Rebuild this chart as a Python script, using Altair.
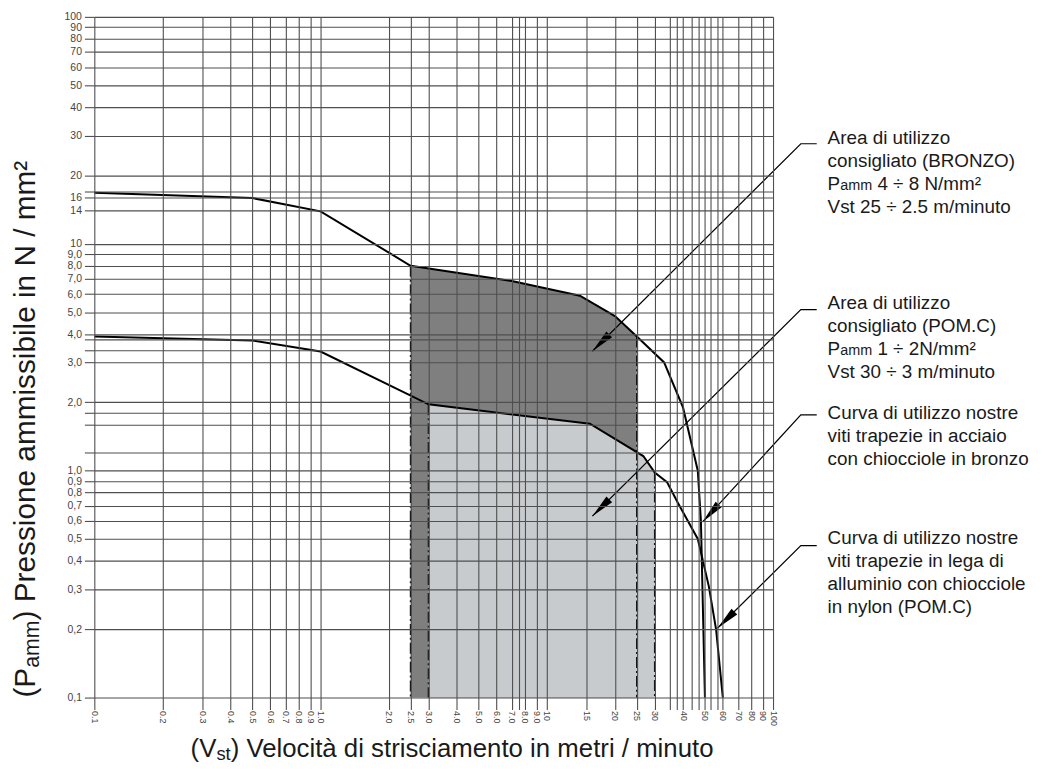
import json
import math
import altair as alt
import pandas as pd

FONT = "Liberation Sans"
TXT = "#1a1a1a"
GRID = "#4f4f4f"

# ---------------- data ----------------
# bronze-nut curve (steel screws + bronze nuts): velocity m/min, pressure N/mm2
bronze_v = [0.1, 0.5, 1.0, 2.5, 7.0, 14.0, 20.0, 25.0, 33.0, 40.0, 46.5, 48.0, 50.0]
bronze_p = [16.8, 15.9, 13.9, 8.0, 6.85, 5.9, 4.8, 3.9, 3.0, 1.9, 1.0, 0.6, 0.1]
# POM.C-nut curve (aluminium screws + nylon nuts)
pom_v = [0.1, 0.5, 1.0, 3.0, 15.5, 26.7, 30.0, 34.0, 38.0, 46.5, 52.0, 56.0, 60.0]
pom_p = [3.9, 3.75, 3.35, 1.96, 1.61, 1.16, 0.98, 0.89, 0.72, 0.5, 0.31, 0.2, 0.1]

bronze_range = [2.5, 25.0]
pom_range = [3.0, 30.0]
p_floor = 0.1

# grid lines and tick labels
x_grid = [0.1, 0.2, 0.3, 0.4, 0.5, 0.6, 0.7, 0.8, 0.9, 1.0, 2.0, 2.5, 3.0, 4.0, 5.0,
          6.0, 7.0, 7.5, 8.0, 9.0, 10, 15, 20, 25, 30, 35, 37.5, 40, 43.5, 47, 50,
          53, 57, 60, 70, 80, 90, 100]
x_labeled = [0.1, 0.2, 0.3, 0.4, 0.5, 0.6, 0.7, 0.8, 0.9, 1.0, 2.0, 2.5, 3.0, 4.0,
             5.0, 6.0, 7.0, 8.0, 9.0, 10, 15, 20, 25, 30, 40, 50, 60, 70, 80, 90, 100]
y_grid = [0.1, 0.2, 0.3, 0.4, 0.5, 0.6, 0.7, 0.8, 0.9, 1.0, 1.2, 1.6, 1.8, 2.0, 3.0,
          3.4, 3.8, 4.0, 5.0, 6.0, 7.0, 8.0, 9.0, 10, 14, 16, 17, 20, 30, 40, 50,
          60, 70, 80, 90, 100]
y_labeled = [0.1, 0.2, 0.3, 0.4, 0.5, 0.6, 0.7, 0.8, 0.9, 1.0, 2.0, 3.0, 4.0, 5.0,
             6.0, 7.0, 8.0, 9.0, 10, 14, 16, 20, 30, 40, 50, 60, 70, 80, 90, 100]

# annotation arrows (data units): tip, bend and end of each leader
arrow_tip_v = [15.9, 15.9, 48.8, 56.8]
arrow_tip_p = [3.36, 0.63, 0.594, 0.202]
arrow_bend_p = [27.6, 5.13, 1.76, 0.467]
arrow_bend_v = 132.7
arrow_end_v = 156.0

# annotation texts
block1 = ["Area di utilizzo", "consigliato (BRONZO)", ["P", "amm", "4 ÷ 8 N/mm²"],
          "Vst 25 ÷ 2.5 m/minuto"]
block2 = ["Area di utilizzo", "consigliato (POM.C)", ["P", "amm", "1 ÷ 2N/mm²"],
          "Vst 30 ÷ 3 m/minuto"]
block3 = ["Curva di utilizzo nostre", "viti trapezie in acciaio", "con chiocciole in bronzo"]
block4 = ["Curva di utilizzo nostre", "viti trapezie in lega di",
          "alluminio con chiocciole", "in nylon (POM.C)"]
x_title = ["(V", "st", ") Velocità di strisciamento in metri / minuto"]
y_title = ["(P", "amm", ") Pressione ammissibile in N / mm²"]

# ---------------- layout ----------------
W, H = 684, 686
PAD = {"left": 87, "top": 6, "right": 263, "bottom": 63}
X0, Y0 = 8 + PAD["left"], 8 + PAD["top"]  # page position of plot origin

xs = alt.Scale(type="log", domain=[0.1, 100], nice=False)
ys = alt.Scale(type="log", domain=[0.1, 100], nice=False)

x_expr = ("indexof(%s, datum.value) < 0 ? '' : (datum.value < 10 ? "
          "format(datum.value, '.1f') : format(datum.value, 'd'))") % json.dumps(x_labeled)
y_expr = ("indexof(%s, datum.value) < 0 ? '' : (datum.value < 10 ? "
          "replace(format(datum.value, '.1f'), '.', ',') : format(datum.value, 'd'))") % json.dumps(y_labeled)

x_axis = alt.Axis(values=x_grid, labelExpr=x_expr, title=None, grid=True, gridColor=GRID,
                  gridWidth=1.1, gridOpacity=1, domain=False, ticks=True, tickSize=12,
                  tickColor=GRID, tickWidth=1.1, labelAngle=90, labelAlign="left",
                  labelBaseline="middle", labelPadding=1, labelFont=FONT, labelFontSize=9,
                  labelColor="#444444", labelOverlap=False, labelFlush=False, zindex=1)
y_axis = alt.Axis(values=y_grid, labelExpr=y_expr, title=None, grid=True, gridColor=GRID,
                  gridWidth=1.1, gridOpacity=1, domain=False, ticks=True, tickSize=10,
                  tickColor=GRID, tickWidth=1.1, labelPadding=3, labelFont=FONT,
                  labelFontSize=10.5, labelColor="#444444", labelOverlap=False,
                  labelFlush=False, zindex=1)

X = alt.X("v:Q", scale=xs, axis=x_axis)
Y = alt.Y("p:Q", scale=ys, axis=y_axis)

bronze_df = pd.DataFrame({"v": bronze_v, "p": bronze_p, "s": "bronzo", "i": range(len(bronze_v))})
pom_df = pd.DataFrame({"v": pom_v, "p": pom_p, "s": "pom", "i": range(len(pom_v))})

dark_df = bronze_df[(bronze_df.v >= bronze_range[0]) & (bronze_df.v <= bronze_range[1])]
light_df = pom_df[(pom_df.v >= pom_range[0]) & (pom_df.v <= pom_range[1])]

b_look = dict(zip(bronze_v, bronze_p))
p_look = dict(zip(pom_v, pom_p))
rule_df = pd.DataFrame({
    "v": bronze_range + pom_range,
    "p": [b_look[v] for v in bronze_range] + [p_look[v] for v in pom_range],
})

dark = alt.Chart(dark_df).mark_area(color="#7f7f7f", opacity=1).encode(
    x=X, y=Y, y2=alt.datum(p_floor))
light = alt.Chart(light_df).mark_area(color="#c7cbce", opacity=1).encode(
    x=X, y=Y, y2=alt.datum(p_floor))
rules = alt.Chart(rule_df).mark_rule(color="#111111", strokeWidth=1.6,
                                     strokeDash=[11, 3, 2, 3]).encode(
    x=X, y=Y, y2=alt.datum(p_floor))
curves = alt.Chart(pd.concat([bronze_df, pom_df])).mark_line(
    color="black", strokeWidth=2).encode(x=X, y=Y, detail="s:N", order="i:Q")

# leader lines
rows = []
for a in range(4):
    rows.append({"a": a, "k": 0, "v": arrow_end_v, "p": arrow_bend_p[a]})
    rows.append({"a": a, "k": 1, "v": arrow_bend_v, "p": arrow_bend_p[a]})
    rows.append({"a": a, "k": 2, "v": arrow_tip_v[a], "p": arrow_tip_p[a]})
lead_df = pd.DataFrame(rows)
leaders = alt.Chart(lead_df).mark_line(color="black", strokeWidth=1.2).encode(
    x=X, y=Y, detail="a:N", order="k:Q")


def ang(a):
    ux = (math.log10(arrow_bend_v) - math.log10(arrow_tip_v[a])) * W / 3
    uy = -(math.log10(arrow_bend_p[a]) - math.log10(arrow_tip_p[a])) * H / 3
    return math.degrees(math.atan2(-ux, uy)) % 360


tip_df = pd.DataFrame({"v": arrow_tip_v, "p": arrow_tip_p, "ang": [ang(a) for a in range(4)]})
ARROW = "M0,0L-0.17,1L0.17,1Z"
heads = alt.Chart(tip_df).mark_point(shape=ARROW, filled=True, size=2304, color="black",
                                     opacity=1, strokeWidth=0).encode(
    x=X, y=Y, angle=alt.Angle("ang:Q", scale=None))

layers = [dark, light, rules, curves, leaders, heads]


def txt(s, px, py, size, angle=0, dy=0):
    kw = dict(align="left", baseline="alphabetic", font=FONT, fontSize=size, color=TXT)
    if angle:
        kw["angle"] = angle
    if dy:
        kw["dy"] = dy
    return alt.Chart(pd.DataFrame({"t": [s]})).mark_text(**kw).encode(
        text="t:N", x=alt.value(px - X0), y=alt.value(py - Y0))


# annotation blocks
FS = 19
FS_SUB = 14.5
STEP = 23.3
TX = 834
for block, base in [(block1, 142), (block2, 308), (block3, 419), (block4, 545)]:
    for i, line in enumerate(block):
        yy = base + i * STEP
        if isinstance(line, list):
            x1 = TX + 0.667 * FS
            x2 = x1 + 2.222 * FS_SUB + 0.278 * FS
            layers.append(txt(line[0], TX, yy, FS))
            layers.append(txt(line[1], x1, yy, FS_SUB))
            layers.append(txt(line[2], x2, yy, FS))
        else:
            layers.append(txt(line, TX, yy, FS))

# x title
XT_FS, XT_SUB = 26, 18.5
xt_x, xt_y = 192, 760
layers.append(txt(x_title[0], xt_x, xt_y, XT_FS))
layers.append(txt(x_title[1], xt_x + 1.0 * XT_FS, xt_y + 3, XT_SUB))
layers.append(txt(x_title[2], xt_x + 1.0 * XT_FS + 0.778 * XT_SUB, xt_y, XT_FS))

# y title (rotated, reads upward)
YT_FS, YT_SUB = 30, 21.5
yt_x, yt_y = 35, 700
layers.append(txt(y_title[0], yt_x, yt_y, YT_FS, angle=270))
layers.append(txt(y_title[1], yt_x + 4, yt_y - 1.0 * YT_FS, YT_SUB, angle=270))
layers.append(txt(y_title[2], yt_x, yt_y - 1.0 * YT_FS - 2.222 * YT_SUB, YT_FS, angle=270))

chart = alt.layer(*layers).properties(
    width=W, height=H, padding=PAD, autosize=alt.AutoSizeParams(type="none"),
    background="white",
).configure_view(stroke=None)

chart.save("out.html", embed_options={"renderer": "svg", "actions": False})
